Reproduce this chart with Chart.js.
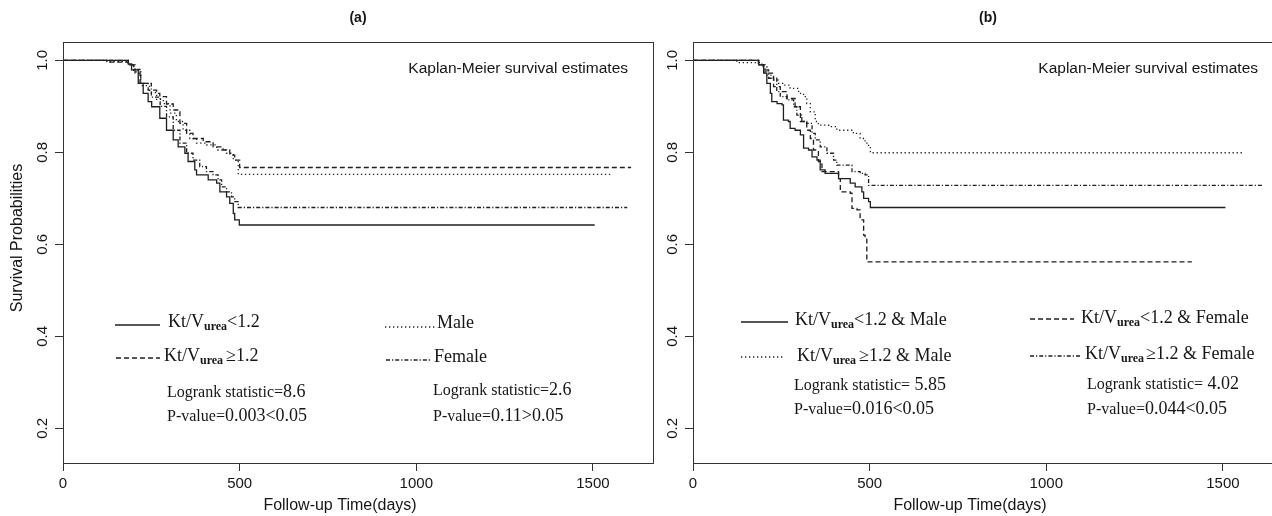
<!DOCTYPE html>
<html><head><meta charset="utf-8">
<script src="https://cdn.jsdelivr.net/npm/chart.js@4.4.1/dist/chart.umd.min.js"></script>
<style>
html,body{margin:0;padding:0;overflow:hidden;background:#fff;width:1272px;height:516px;}
#wrap{position:relative;width:1272px;height:516px;overflow:hidden;background:#fff;}
canvas{position:absolute;top:0;}
#ca{left:0;}
#cb{left:660px;}
</style></head><body>
<div id="wrap"><canvas id="ca" width="660" height="516"></canvas><canvas id="cb" width="640" height="516"></canvas></div>
<script>
// ---------- tick values / labels ----------
const xTickValues = [0, 500, 1000, 1500];
const xTickLabels = ['0', '500', '1000', '1500'];
const yTickValues = [0.2, 0.4, 0.6, 0.8, 1.0];
const yTickLabels = ['0.2', '0.4', '0.6', '0.8', '1.0'];

// ---------- panel (a): Kt/V groups and sex ----------
const aLowTime  = [0, 185, 194, 213, 227, 241, 251, 274, 293, 312, 326, 345, 354, 373, 378, 411, 435, 444, 463, 472, 482, 486, 499, 1505];
const aLowSurv  = [1, 0.992, 0.979, 0.950, 0.928, 0.910, 0.899, 0.874, 0.848, 0.827, 0.812, 0.798, 0.780, 0.762, 0.751, 0.740, 0.733, 0.714, 0.703, 0.689, 0.667, 0.653, 0.642, 0.642];
const aHighTime = [0, 124, 185, 204, 218, 241, 265, 274, 293, 312, 331, 350, 368, 397, 425, 453, 472, 486, 500, 1608];
const aHighSurv = [1, 0.996, 0.990, 0.972, 0.950, 0.935, 0.928, 0.921, 0.905, 0.892, 0.863, 0.841, 0.830, 0.823, 0.812, 0.805, 0.794, 0.783, 0.767, 0.767];
const aMaleTime = [0, 124, 185, 200, 220, 245, 265, 284, 303, 321, 340, 359, 378, 406, 435, 463, 482, 496, 1553];
const aMaleSurv = [1, 0.997, 0.990, 0.975, 0.945, 0.930, 0.915, 0.906, 0.885, 0.867, 0.848, 0.830, 0.820, 0.816, 0.805, 0.798, 0.783, 0.752, 0.752];
const aFemTime  = [0, 185, 200, 220, 250, 275, 293, 312, 331, 350, 368, 387, 406, 425, 439, 449, 463, 477, 486, 496, 1597];
const aFemSurv  = [1, 0.990, 0.980, 0.950, 0.920, 0.900, 0.877, 0.848, 0.820, 0.798, 0.783, 0.769, 0.758, 0.751, 0.740, 0.725, 0.714, 0.703, 0.693, 0.680, 0.680];

// ---------- panel (b): Kt/V x sex ----------
const bLowMaleTime  = [0, 186, 200, 209, 219, 223, 238, 252, 256, 270, 275, 289, 304, 313, 327, 337, 351, 360, 374, 412, 445, 459, 478, 483, 497, 502, 1507];
const bLowMaleSurv  = [1, 0.990, 0.972, 0.950, 0.928, 0.910, 0.906, 0.903, 0.870, 0.867, 0.852, 0.848, 0.838, 0.809, 0.805, 0.790, 0.783, 0.762, 0.754, 0.743, 0.733, 0.725, 0.714, 0.700, 0.693, 0.680, 0.680];
const bLowFemTime   = [0, 185, 204, 228, 247, 266, 289, 304, 322, 332, 341, 355, 365, 412, 417, 445, 450, 464, 473, 483, 487, 492, 1412];
const bLowFemSurv   = [1, 0.990, 0.972, 0.943, 0.932, 0.917, 0.899, 0.867, 0.848, 0.830, 0.805, 0.780, 0.758, 0.743, 0.714, 0.711, 0.678, 0.675, 0.653, 0.620, 0.617, 0.562, 0.562];
const bHighMaleTime = [0, 124, 195, 209, 223, 242, 256, 275, 299, 313, 322, 332, 346, 355, 384, 407, 454, 473, 487, 497, 502, 1555];
const bHighMaleSurv = [1, 0.995, 0.986, 0.968, 0.957, 0.950, 0.946, 0.939, 0.928, 0.921, 0.906, 0.888, 0.867, 0.859, 0.856, 0.848, 0.841, 0.830, 0.820, 0.812, 0.799, 0.799];
const bHighFemTime  = [0, 186, 200, 214, 237, 247, 266, 285, 294, 308, 322, 337, 346, 360, 379, 398, 407, 450, 473, 487, 497, 1611];
const bHighFemSurv  = [1, 0.990, 0.979, 0.961, 0.932, 0.921, 0.914, 0.899, 0.881, 0.867, 0.863, 0.841, 0.827, 0.812, 0.798, 0.783, 0.772, 0.758, 0.754, 0.751, 0.728, 0.728];

// ---------- styles ----------
const LINE = '#1f1f1f';
const AX = '#333333';
const TXT = '#151515';
const SANS = '"Liberation Sans", Arial, Helvetica, sans-serif';
const SERIF = '"Liberation Serif", "Times New Roman", Times, serif';
const DASH = { solid: [], dashed: [5, 3], dotted: [1.3, 2.7], dashdot: [4, 2, 1.2, 2] };

function drawSample(ctx, x1, x2, y, dash) {
  ctx.save();
  ctx.setLineDash(dash);
  ctx.strokeStyle = LINE;
  ctx.lineWidth = 1.3;
  ctx.beginPath(); ctx.moveTo(x1, y); ctx.lineTo(x2, y); ctx.stroke();
  ctx.restore();
}
function drawKtv(ctx, x, y, rest, gap) {
  ctx.textAlign = 'left'; ctx.textBaseline = 'middle'; ctx.fillStyle = TXT;
  ctx.font = '18px ' + SERIF;
  ctx.fillText('Kt/V', x, y);
  let w = ctx.measureText('Kt/V').width;
  ctx.font = 'bold 12px ' + SERIF;
  ctx.fillText('urea', x + w, y + 5);
  w += ctx.measureText('urea').width + (gap || 0);
  ctx.font = '18px ' + SERIF;
  ctx.fillText(rest, x + w, y);
}
function drawStat(ctx, x, y, words, num) {
  ctx.textAlign = 'left'; ctx.textBaseline = 'middle'; ctx.fillStyle = TXT;
  ctx.font = '16px ' + SERIF;
  ctx.fillText(words, x, y);
  const w = ctx.measureText(words).width;
  ctx.font = '18px ' + SERIF;
  ctx.fillText(num, x + w, y - 1);
}
function drawPlain(ctx, text, x, y, font, align, rot) {
  ctx.save();
  ctx.fillStyle = TXT; ctx.font = font; ctx.textAlign = align || 'left'; ctx.textBaseline = 'middle';
  ctx.translate(x, y);
  if (rot) ctx.rotate(rot);
  ctx.fillText(text, 0, 0);
  ctx.restore();
}

function annotPlugin(offsetX, drawFn) {
  return {
    id: 'annot',
    afterDraw(chart) {
      const ctx = chart.ctx;
      const ca = chart.chartArea;
      ctx.save();
      ctx.strokeStyle = AX; ctx.lineWidth = 1;
      ctx.strokeRect(Math.round(ca.left) + 0.5, Math.round(ca.top) + 0.5, Math.round(ca.right - ca.left), Math.round(ca.bottom - ca.top));
      ctx.translate(-offsetX, 0);
      drawFn(ctx, { left: ca.left + offsetX, right: ca.right + offsetX, top: ca.top, bottom: ca.bottom });
      ctx.restore();
    }
  };
}

function makeSeries(t, s, dash) {
  return {
    data: t.map((v, i) => ({ x: v, y: s[i] })),
    borderColor: LINE, borderWidth: 1.3, borderDash: dash,
    stepped: true, pointRadius: 0, fill: false, tension: 0
  };
}

function makeChart(id, datasets, yWidth, padRight, plugin) {
  const tickFont = { family: SANS, size: 15 };
  return new Chart(document.getElementById(id), {
    type: 'line',
    data: { datasets },
    options: {
      responsive: false, animation: false, devicePixelRatio: 1,
      layout: { padding: { top: 42, right: padRight, bottom: 0, left: 0 } },
      plugins: { legend: { display: false }, tooltip: { enabled: false }, title: { display: false } },
      scales: {
        x: {
          type: 'linear', min: 0, max: 1670,
          afterBuildTicks: sc => { sc.ticks = xTickValues.map(v => ({ value: v })); },
          afterFit: sc => { sc.height = 53; },
          grid: { drawOnChartArea: false, drawTicks: true, tickLength: 8, color: AX, lineWidth: 1 },
          border: { display: true, color: AX, width: 1 },
          ticks: { font: tickFont, color: TXT, padding: 4, minRotation: 0, maxRotation: 0, autoSkip: false,
                   callback: (v, i) => xTickLabels[i] }
        },
        y: {
          type: 'linear', min: 0.1246, max: 1.0398,
          afterBuildTicks: sc => { sc.ticks = yTickValues.map(v => ({ value: v })); },
          afterFit: sc => { sc.width = yWidth; },
          grid: { drawOnChartArea: false, drawTicks: true, tickLength: 8, color: AX, lineWidth: 1 },
          border: { display: true, color: AX, width: 1 },
          ticks: { font: tickFont, color: TXT, padding: 2, minRotation: 90, maxRotation: 90, crossAlign: 'center', autoSkip: false,
                   callback: (v, i) => yTickLabels[i] }
        }
      }
    },
    plugins: [plugin]
  });
}

// ---------- panel (a) ----------
makeChart('ca', [
  makeSeries(aLowTime, aLowSurv, DASH.solid),
  makeSeries(aHighTime, aHighSurv, DASH.dashed),
  makeSeries(aMaleTime, aMaleSurv, DASH.dotted),
  makeSeries(aFemTime, aFemSurv, DASH.dashdot)
], 63, 7, annotPlugin(0, (ctx, ca) => {
  drawPlain(ctx, '(a)', (ca.left + ca.right) / 2, 18, 'bold 14px ' + SANS, 'center');
  drawPlain(ctx, 'Kaplan-Meier survival estimates', ca.left + 565, 69, '15.5px ' + SANS, 'right');
  drawSample(ctx, 115, 160, 325, DASH.solid);
  drawKtv(ctx, 168, 322, '<1.2');
  drawSample(ctx, 385, 435, 327, DASH.dotted);
  drawPlain(ctx, 'Male', 437, 323, '18px ' + SERIF, 'left');
  drawSample(ctx, 116, 160, 358, DASH.dashed);
  drawKtv(ctx, 164, 356, '\u22651.2', 3);
  drawSample(ctx, 386, 432, 360, DASH.dashdot);
  drawPlain(ctx, 'Female', 434, 357, '18px ' + SERIF, 'left');
  drawStat(ctx, 167, 393, 'Logrank statistic=', '8.6');
  drawStat(ctx, 167, 417, 'P-value=', '0.003<0.05');
  drawStat(ctx, 433, 391, 'Logrank statistic=', '2.6');
  drawStat(ctx, 433, 417, 'P-value=', '0.11>0.05');
  drawPlain(ctx, 'Follow-up Time(days)', 340, 506, '16px ' + SANS, 'center');
  drawPlain(ctx, 'Survival Probabilities', 18, 238, '16px ' + SANS, 'center', -Math.PI / 2);
}));

// ---------- panel (b) ----------
makeChart('cb', [
  makeSeries(bLowMaleTime, bLowMaleSurv, DASH.solid),
  makeSeries(bLowFemTime, bLowFemSurv, DASH.dashed),
  makeSeries(bHighMaleTime, bHighMaleSurv, DASH.dotted),
  makeSeries(bHighFemTime, bHighFemSurv, DASH.dashdot)
], 33, 17, annotPlugin(660, (ctx, ca) => {
  drawPlain(ctx, '(b)', (ca.left + ca.right) / 2, 18, 'bold 14px ' + SANS, 'center');
  drawPlain(ctx, 'Kaplan-Meier survival estimates', ca.left + 565, 69, '15.5px ' + SANS, 'right');
  drawSample(ctx, 741, 788, 322, DASH.solid);
  drawKtv(ctx, 795, 320, '<1.2 & Male');
  drawSample(ctx, 1030, 1074, 319, DASH.dashed);
  drawKtv(ctx, 1081, 318, '<1.2 & Female');
  drawSample(ctx, 741, 785, 357, DASH.dotted);
  drawKtv(ctx, 797, 356, '\u22651.2 & Male', 3);
  drawSample(ctx, 1030, 1081, 356, DASH.dashdot);
  drawKtv(ctx, 1085, 354, '\u22651.2 & Female', 2);
  drawStat(ctx, 794, 386, 'Logrank statistic=', ' 5.85');
  drawStat(ctx, 794, 410, 'P-value=', '0.016<0.05');
  drawStat(ctx, 1087, 385, 'Logrank statistic=', ' 4.02');
  drawStat(ctx, 1087, 410, 'P-value=', '0.044<0.05');
  drawPlain(ctx, 'Follow-up Time(days)', 970, 506, '16px ' + SANS, 'center');
}));
</script>
</body></html>
